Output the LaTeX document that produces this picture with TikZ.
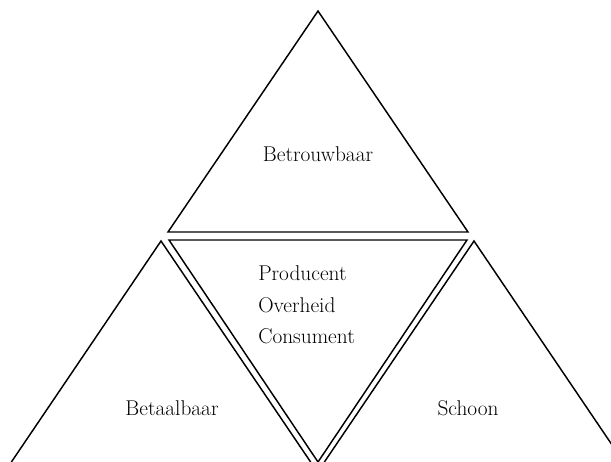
\documentclass[tikz,border=0pt]{standalone}
\begin{document}
\begin{tikzpicture}[
  x=0.75pt, y=-0.75pt,
  tri/.style={draw, line width=1.1pt, line join=miter},
  label/.style={font=\fontsize{16}{23.6}\selectfont, inner sep=0pt},
  stack/.style={font=\fontsize{16}{23.6}\selectfont, inner sep=0pt, align=left},
]
\useasboundingbox (0,0) rectangle (611,461);

% Corners of the four triangles
\coordinate (topA) at (318,11);
\coordinate (topL) at (168,232);
\coordinate (topR) at (468,232);

\coordinate (midL) at (169,240);
\coordinate (midR) at (467,240);
\coordinate (midA) at (318,462);

\coordinate (lftA) at (161,241);
\coordinate (lftL) at (8,467);
\coordinate (lftR) at (314,467);

\coordinate (rgtA) at (474,241);
\coordinate (rgtL) at (321,467);
\coordinate (rgtR) at (627,467);

% Triangles (the lower bases fall below the page)
\begin{scope}
\clip (0,0) rectangle (611,461);
\draw[tri] (topA) -- (topL) -- (topR) -- cycle;
\draw[tri] (midL) -- (midR) -- (midA) -- cycle;
\draw[tri] (lftA) -- (lftL) -- (lftR) -- cycle;
\draw[tri] (rgtA) -- (rgtL) -- (rgtR) -- cycle;
\end{scope}

% Labels
\node[label] (betrouwbaar) at (318,154) {Betrouwbaar};
\node[stack, anchor=west] (partijen) at (258,305) {Producent\\Overheid\\Consument};
\node[label] (betaalbaar) at (172,408) {Betaalbaar};
\node[label] (schoon) at (468,408) {Schoon};

\end{tikzpicture}
\end{document}
